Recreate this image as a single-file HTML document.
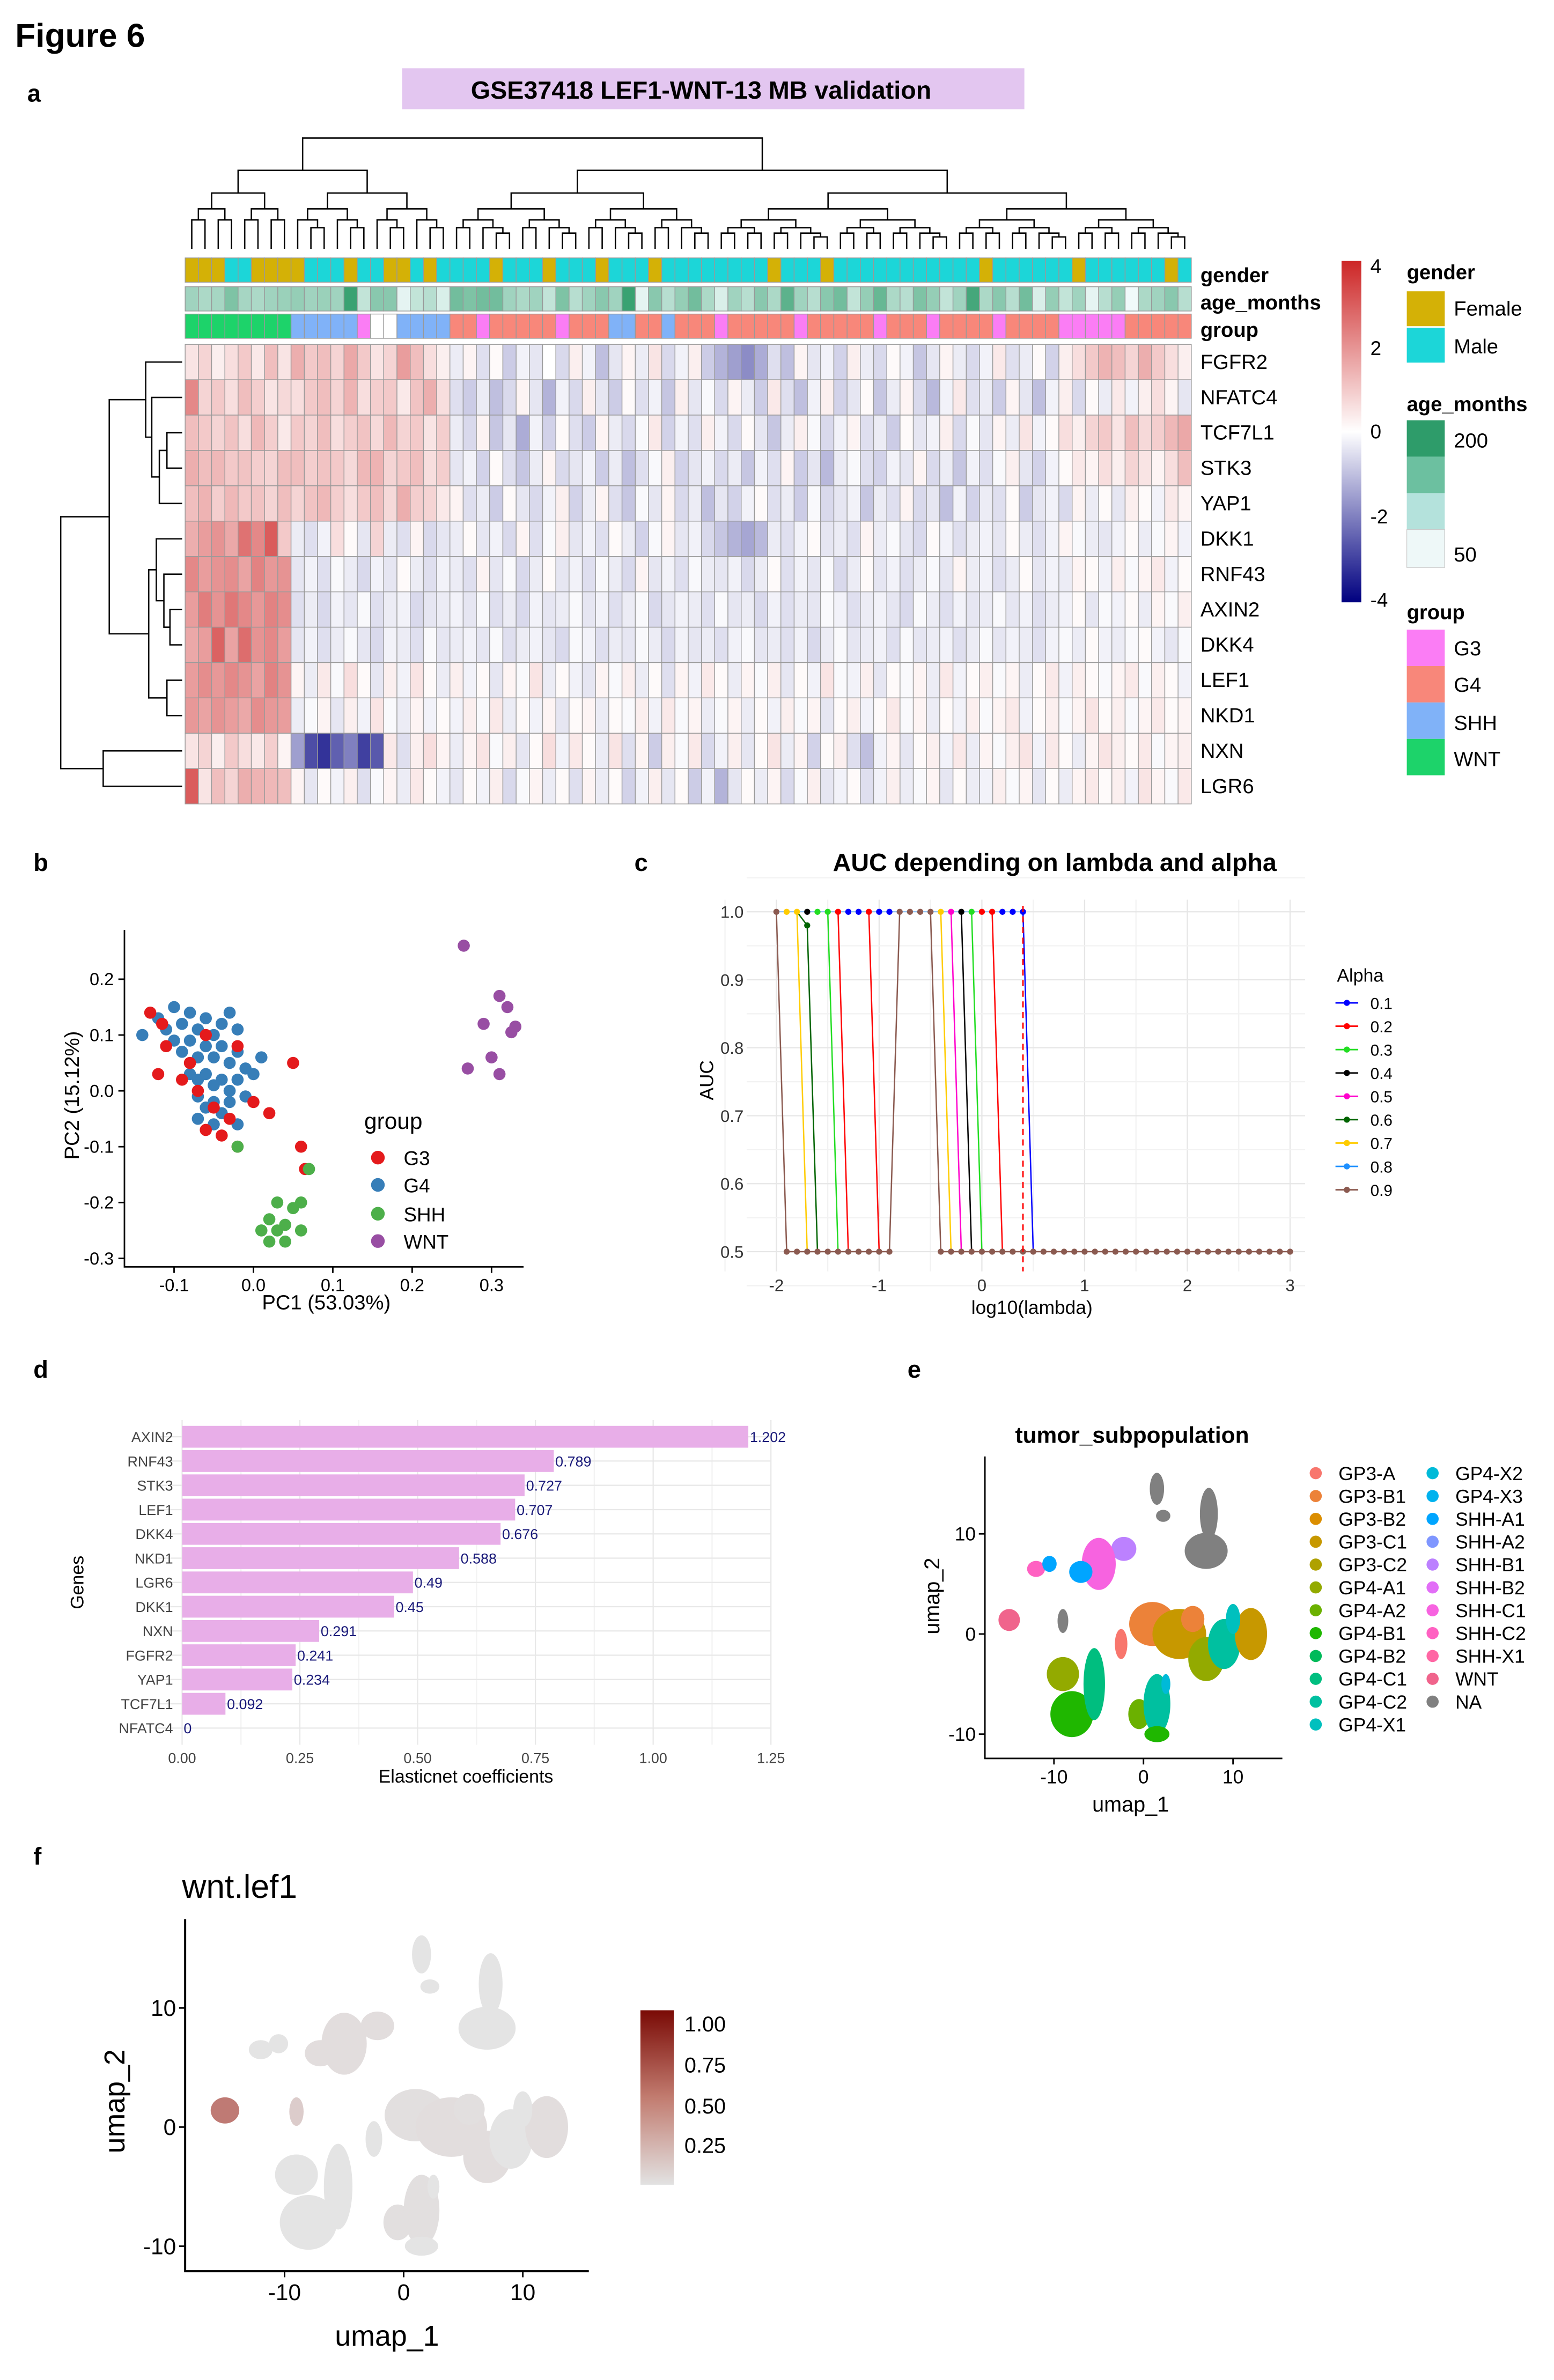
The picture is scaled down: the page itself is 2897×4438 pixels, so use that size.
<!DOCTYPE html>
<html><head><meta charset="utf-8"><style>
html,body{margin:0;padding:0;background:#fff}
svg{display:block;font-family:"Liberation Sans",Arial,sans-serif}
</style></head><body>
<svg id="fig" xmlns="http://www.w3.org/2000/svg" width="2897" height="4438" viewBox="0 0 1024 1568.7" preserveAspectRatio="none">
<rect x="0" y="0" width="1024" height="1568.7" fill="#fff"/>
<text x="10" y="31" font-size="22" font-weight="bold">Figure 6</text>
<text x="18" y="67" font-size="16" font-weight="bold">a</text>
<rect x="265" y="45" width="410" height="27" fill="#e3c6f0"/>
<text x="462" y="65" font-size="16.5" font-weight="bold" text-anchor="middle">GSE37418 LEF1-WNT-13 MB validation</text>
<g id="heat"></g>
<text x="791" y="186" font-size="13.5" font-weight="bold">gender</text>
<text x="791" y="204" font-size="13.5" font-weight="bold">age_months</text>
<text x="791" y="222" font-size="13.5" font-weight="bold">group</text>
<defs>
<linearGradient id="hg" x1="0" y1="0" x2="0" y2="1"><stop offset="0" stop-color="#cd2626"/><stop offset="0.5" stop-color="#ffffff"/><stop offset="1" stop-color="#000080"/></linearGradient>
<linearGradient id="fg" x1="0" y1="0" x2="0" y2="1"><stop offset="0" stop-color="#7a0a05"/><stop offset="0.5" stop-color="#c27c70"/><stop offset="1" stop-color="#e2e2e2"/></linearGradient>
</defs>
<g>
<rect x="884" y="172" width="13" height="225" fill="url(#hg)"/>
<g font-size="13"><text x="903" y="180">4</text><text x="903" y="234">2</text><text x="903" y="289">0</text><text x="903" y="345">-2</text><text x="903" y="400">-4</text></g>
</g>
<g font-size="13.5">
<text x="927" y="184" font-weight="bold">gender</text>
<rect x="927" y="192" width="25" height="23" fill="#d4b106"/><text x="958" y="208">Female</text>
<rect x="927" y="216" width="25" height="23" fill="#1cd6d8"/><text x="958" y="233">Male</text>
</g>
<g font-size="13.5">
<text x="927" y="271" font-weight="bold">age_months</text>
<rect x="927" y="277" width="25" height="24" fill="#2e9c6a"/>
<rect x="927" y="301" width="25" height="24" fill="#6cc0a0"/>
<rect x="927" y="325" width="25" height="24" fill="#b4e2dc"/>
<rect x="927" y="349" width="25" height="25" fill="#eef8f8" stroke="#ccc" stroke-width="0.5"/>
<text x="958" y="295">200</text><text x="958" y="370">50</text>
</g>
<g font-size="13.5">
<text x="927" y="408" font-weight="bold">group</text>
<rect x="927" y="415" width="25" height="24" fill="#fb7df5"/><text x="958" y="432">G3</text>
<rect x="927" y="439" width="25" height="24" fill="#f8877a"/><text x="958" y="456">G4</text>
<rect x="927" y="463" width="25" height="24" fill="#80b2f8"/><text x="958" y="481">SHH</text>
<rect x="927" y="487" width="25" height="24" fill="#1dd36a"/><text x="958" y="505">WNT</text>
</g>

<text x="22" y="574" font-size="16" font-weight="bold">b</text>
<g id="pca"></g>
<text x="215" y="863" font-size="13.5" text-anchor="middle">PC1 (53.03%)</text>
<text transform="translate(52,722) rotate(-90)" font-size="13.5" text-anchor="middle">PC2 (15.12%)</text>
<g font-size="13">
<text x="240" y="744" font-size="15">group</text>
<circle cx="249" cy="763" r="4.5" fill="#e41a1c"/><text x="266" y="768">G3</text>
<circle cx="249" cy="781" r="4.5" fill="#377eb8"/><text x="266" y="786">G4</text>
<circle cx="249" cy="800" r="4.5" fill="#4daf4a"/><text x="266" y="805">SHH</text>
<circle cx="249" cy="818" r="4.5" fill="#984ea3"/><text x="266" y="823">WNT</text>
</g>

<text x="418" y="574" font-size="16" font-weight="bold">c</text>
<text x="695" y="574" font-size="16.5" font-weight="bold" text-anchor="middle">AUC depending on lambda and alpha</text>
<g id="auc"></g>
<text x="680" y="866" font-size="12.5" text-anchor="middle">log10(lambda)</text>
<text transform="translate(470,712) rotate(-90)" font-size="12.5" text-anchor="middle">AUC</text>
<g id="aucleg"><text x="881" y="647" font-size="12">Alpha</text></g>

<text x="22" y="908" font-size="16" font-weight="bold">d</text>
<g id="bars"></g>
<text x="307" y="1175" font-size="12" text-anchor="middle">Elasticnet coefficients</text>
<text transform="translate(55,1043) rotate(-90)" font-size="12" text-anchor="middle">Genes</text>

<text x="598" y="908" font-size="16" font-weight="bold">e</text>
<text x="746" y="951" font-size="15" font-weight="bold" text-anchor="middle">tumor_subpopulation</text>
<g id="ue"></g>
<text x="745" y="1194" font-size="14" text-anchor="middle">umap_1</text>
<text transform="translate(619,1052) rotate(-90)" font-size="14" text-anchor="middle">umap_2</text>
<g id="uelegend"></g>

<text x="22" y="1229" font-size="16" font-weight="bold">f</text>
<text x="120" y="1251" font-size="22">wnt.lef1</text>
<g id="uf"></g>
<text x="255" y="1546" font-size="19" text-anchor="middle">umap_1</text>
<text transform="translate(82,1385) rotate(-90)" font-size="19" text-anchor="middle">umap_2</text>
<g font-size="14">
<rect x="422" y="1325" width="22" height="115" fill="url(#fg)"/>
<text x="451" y="1339">1.00</text><text x="451" y="1366">0.75</text><text x="451" y="1393">0.50</text><text x="451" y="1419">0.25</text>
</g>
</svg>
<script>
// ===== Heatmap data =====
const genes=["FGFR2","NFATC4","TCF7L1","STK3","YAP1","DKK1","RNF43","AXIN2","DKK4","LEF1","NKD1","NXN","LGR6"];
const genderStr="FFFMMFFFFMMMFMMFFMFMMMMFMMMFMMMFMMMFMMMMMMMMFMMMFMMMMMMMMMMMFMMMMMMFMMMMMMFMF";
const groupStr="WWWWWWWWSSSSS3NNSSSS443444443444SS44S4443444443444443444344443444433333444";
const ageVals=[110,100,105,140,105,100,110,115,120,110,115,110,200,80,130,130,50,80,90,60,150,140,150,150,110,100,110,80,140,90,110,130,110,200,50,130,90,120,150,100,60,110,90,130,100,170,110,90,130,150,80,120,160,100,90,140,120,80,110,190,100,130,90,150,60,120,80,110,50,90,120,40,100,110,130,90];
const expr=[
[.5,.8,.3,.6,1,.4,1.2,.5, 1.5,1,1.2,.8,1.6,1,.5,.8,1.8,1.2,.6,.3, -.3,.2,-.5,.1,-.8,-.2,-.4,0,-.6,.3, -.2,-1,-.4,.2,-.3,.5,-.6,-.2,.3,-.8, -1.2,-1.5,-1.8,-1.3,-.5,-1,.2,-.4,-.2,-.7, .3,-.3,-.6,.1,-.2,-.9,-.4,.2,-.3,-.6, -.2,.4,-.5,-.3,.1,-.7,.3,.6,1,1.4, 1.2,.8,1.5,1,.6,.3],
[2.2,.8,1,.6,1.2,.9,.5,.7, .6,1,1.2,.8,1.4,.6,.9,1,.4,1.1,1.5,.6, -.5,-.8,-.3,-1,-.6,.2,-.4,-1.2,-.2,-.6, .3,-.4,-.8,.1,-.5,-.2,-.9,.3,-.4,-.1, -.6,.2,-.3,-.8,.4,-.5,-1,-.2,.3,-.7, -.4,.1,-.9,-.3,.2,-.6,-1.1,-.2,.4,-.5, -.3,-.8,.2,-.4,-1,-.2,.3,-.6,.1,-.3, .4,-.2,.3,.6,.2,-.4],
[1.2,1,.8,1.1,.6,1.3,.9,.4, 1,.8,1.2,.6,.9,1.1,.7,1.3,.8,1,.5,.9, -.3,-.6,.2,-.9,-.4,-1.3,-.2,-.7,.1,-.5, -.8,.2,-.3,-.6,-.1,.4,-.7,-.2,-.5,.3, -.2,-.6,.1,-.4,-.9,-.3,.3,-.1,-.6,-.2, .2,-.5,-.3,-.8,.1,-.4,-.2,.3,-.6,-.1, -.4,.2,-.3,.5,-.2,.1,.6,.3,.8,1, .5,1.2,.7,.9,1.3,1.6],
[1.5,1.2,1.3,1,1.1,.9,.8,1.2, 1.2,.9,1.1,1,.7,1.3,1.4,.8,1,1.2,.6,.9, -.4,-.2,-.7,.1,-.5,-.9,-.3,.2,-.6,-.4, -.2,-.8,-.3,-1,-.5,-.1,.3,-.7,-.4,-.2, -.6,-.3,-.9,-.2,-.5,.2,-.8,-.4,-1.1,-.3, -.1,-.5,-.7,-.2,-.4,.2,-.6,-.3,-.9,-.2, -.5,-.1,.3,-.4,-.7,-.2,.1,.4,.2,.6, .3,.8,.5,.2,.6,1.2],
[1.2,1.4,.9,1.3,1,1.1,.8,1.2, .8,1.1,1.3,.9,.6,1,1.2,.7,1.5,.9,.8,.4, .2,-.5,-.3,-.8,.1,-.4,-.6,-.2,.3,-.7, -.3,.2,-.5,-.9,-.1,-.4,.2,-.6,-.3,-1, -.4,-.7,-.2,.1,-.5,-.3,-.8,-.1,-.6,-.4, -.2,-.9,-.3,-.5,.2,-.6,-.4,-1,-.2,-.7, -.3,-.5,.1,-.8,-.4,-.2,-.6,.2,-.3,.1, -.4,.3,.1,-.2,.4,.2],
[1.5,1.8,2,1.6,2.6,2.2,3,1, -.3,-.5,-.2,.6,.1,-.4,.8,-.3,-.5,.2,-.6,-.4, -.3,.1,-.4,-.2,-.6,.2,-.5,-.1,.3,-.4, -.2,-.5,.1,-.3,-.7,-.1,.2,-.4,-.2,-.6, -.9,-1.2,-1.4,-1.1,-.3,-.5,-.2,.1,-.4,-.3, -.5,.2,-.3,-.1,-.4,-.6,.1,-.2,-.5,-.3, -.2,-.4,.1,-.3,-.5,-.2,.2,-.1,-.3,-.4, -.2,.1,-.3,-.1,.2,-.2],
[2.2,1.8,2,2.1,1.7,2.3,1.9,2, -.4,-.2,-.5,-.1,-.3,-.6,-.2,-.4,.1,-.3,-.5,-.2, -.3,-.5,.2,-.4,-.1,-.6,-.3,.1,-.4,-.2, -.5,-.1,-.3,-.6,.2,-.4,-.2,-.5,-.1,-.3, -.4,-.2,-.6,-.3,.1,-.5,-.2,-.4,-.1,-.6, -.3,.1,-.4,-.2,-.5,-.3,-.1,-.4,.2,-.3, -.2,-.5,-.3,.1,-.4,-.2,-.3,.2,.1,-.2, .3,-.1,.2,.4,-.2,.1],
[1.8,2.4,2,2.5,2.2,1.9,2.3,2.1, -.5,-.3,-.6,-.2,-.4,-.1,-.5,-.3,-.2,-.6,-.4,-.3, -.2,-.4,-.1,-.5,-.3,-.6,-.2,-.4,-.3,-.1, -.4,-.2,-.5,-.3,-.1,-.6,-.4,-.2,-.3,-.5, -.1,-.4,-.3,-.6,-.2,-.5,-.3,-.4,-.1,-.2, -.5,-.3,-.2,-.4,-.6,-.1,-.3,-.5,-.2,-.4, -.3,-.1,-.4,-.2,-.5,-.3,-.2,.1,-.4,-.1, -.2,.1,-.3,.2,-.1,.3],
[1.6,1.8,2.9,1.7,2.7,2,2.2,1.8, -.4,-.2,-.5,-.3,-.1,-.4,-.6,-.2,-.3,-.5,-.1,-.4, -.3,-.2,-.4,-.1,-.5,-.3,-.2,-.4,-.6,-.1, -.2,-.5,-.3,-.4,-.1,-.3,-.6,-.2,-.4,-.3, -.5,-.2,-.1,-.4,-.3,-.5,-.2,-.6,-.3,-.1, -.4,-.3,-.2,-.5,-.1,-.4,-.3,-.2,-.5,-.3, -.1,-.4,-.2,-.3,-.5,-.2,-.1,-.3,.1,-.2, -.3,-.1,.1,-.2,-.4,-.1],
[1.8,2.1,1.9,2.2,2,1.7,2.3,2, .2,-.3,.4,-.1,.6,.1,-.4,.3,-.2,.5,.1,-.3, .3,-.2,.1,-.4,.2,-.1,.5,-.3,.1,-.2, -.4,.2,-.1,.3,-.3,.1,-.5,.2,-.2,.4, .1,-.3,.2,-.1,.3,-.4,.1,-.2,.5,-.1, -.2,.3,-.4,.1,-.1,.2,-.3,.4,-.2,.1, .3,-.1,.2,-.3,.1,.4,-.2,.3,.1,-.1, .2,.4,-.1,.3,.1,-.2],
[1.9,1.7,2,1.8,1.6,2.1,1.9,1.8, -.3,-.1,.2,-.4,.3,-.2,.5,-.1,-.3,.2,-.2,.1, -.2,.3,-.1,.4,-.3,.1,-.2,.2,-.4,.1, .2,-.3,.1,-.1,.3,-.2,.4,-.1,.2,-.3, -.1,.2,-.3,.1,-.2,.3,-.1,.2,-.4,.1, .3,-.2,.1,.4,-.1,.2,-.3,.1,-.2,.3, -.1,.2,.4,-.2,.1,.3,-.1,.2,.5,.1, .3,-.1,.2,.4,.1,.2],
[.5,.8,.3,1,.6,.4,.9,.2, -1.5,-2.8,-3.2,-2.5,-2,-3,-2.6,.4,-.5,.3,.6,.2, -.3,.2,.5,-.1,.3,-.4,.1,.6,-.2,.4, .1,-.3,.5,-.5,.2,-.8,.3,-.1,.4,-.6, -.2,.3,-.4,.1,.5,-.3,.2,-.7,.1,.3, -.5,-1,-.2,.2,-.4,.1,.3,-.2,.4,-.3, .2,-.1,.3,.5,-.2,.4,.1,-.3,.2,.5, .3,.1,.4,-.1,.2,.3],
[3,.5,1.2,.8,1.5,1.4,1.3,1.2, .2,-.4,.1,-.2,.3,-.5,-.1,.2,-.3,.4,.1,-.2, -.4,.1,-.2,.3,-.6,-.1,.2,-.3,.1,-.5, .2,-.3,.1,-.7,-.2,.3,-.4,.1,-.8,-.2, -1.2,-.4,.1,-.3,.2,-.6,-.1,.3,-.4,-.2, .1,-.5,-.2,.3,-.3,-.1,.2,-.4,.1,-.3, -.2,.3,-.1,.2,-.4,.1,-.3,.2,.4,.1, .3,-.2,.5,.2,-.1,.4]
];
// ===== PCA data =====
const g3x=[-.13,-.115,-.11,-.12,-.08,-.06,-.07,-.05,-.04,-.03,-.06,-.02,0,.02,.05,.06,.065,-.02,-.09];
const g3y=[.14,.12,.08,.03,.05,.1,0,-.03,-.08,-.05,-.07,-.1,-.02,-.04,.05,-.1,-.14,.08,.02];
const g4x=[-.14,-.12,-.1,-.09,-.08,-.07,-.06,-.05,-.04,-.03,-.02,-.1,-.09,-.08,-.07,-.06,-.05,-.04,-.03,-.02,-.01,-.08,-.07,-.06,-.05,-.04,-.03,-.02,-.07,-.06,-.05,-.04,-.03,-.01,0,-.07,-.05,-.02,.01,-.11];
const g4y=[.1,.13,.15,.12,.14,.11,.13,.1,.12,.14,.11,.09,.07,.09,.06,.08,.06,.08,.05,.07,.04,.03,.02,.03,.01,.02,0,.02,-.01,-.03,-.02,-.04,-.02,-.01,.03,-.05,-.06,-.06,.06,.11];
const shhx=[-.02,.03,.02,.03,.04,.05,.06,.04,.02,.01,.07,.06];
const shhy=[-.1,-.2,-.23,-.25,-.24,-.21,-.25,-.27,-.27,-.25,-.14,-.2];
const wntx=[.265,.31,.32,.33,.325,.29,.30,.27,.31];
const wnty=[.26,.17,.15,.115,.105,.12,.06,.04,.03];
// ===== AUC data =====
const lambdaGrid=[-2,-1.9,-1.8,-1.7,-1.6,-1.5,-1.4,-1.3,-1.2,-1.1,-1,-.9,-.8,-.7,-.6,-.5,-.4,-.3,-.2,-.1,0,.1,.2,.3,.4,.5,.6,.7,.8,.9,1,1.1,1.2,1.3,1.4,1.5,1.6,1.7,1.8,1.9,2,2.1,2.2,2.3,2.4,2.5,2.6,2.7,2.8,2.9,3];
const alphas=[.1,.2,.3,.4,.5,.6,.7,.8,.9];
const alphaColors=["#0000ff","#ff0000","#22dd22","#000000","#ff00cc","#006400","#ffcc00","#1e90ff","#8b5a50"];
const topAlpha=[.9,.7,.7,.4,.3,.3,.2,.1,.1,.2,.1,.1,.9,.9,.9,.9,.7,.5,.4,.3,.2,.2,.1,.1,.1,0,0,0,0,0,0,0,0,0,0,0,0,0,0,0,0,0,0,0,0,0,0,0,0,0,0];
const atBottom=[0,1,1,1,1,1,1,1,1,1,1,1,0,0,0,0,1,1,1,1,1,1,1,1,1,1,1,1,1,1,1,1,1,1,1,1,1,1,1,1,1,1,1,1,1,1,1,1,1,1,1];
const dropMask=[1,0,1,0,0,1,1,0,0,1,0,0,0,0,0,1,1,1,1,1,0,1,0,0,1,0,0,0,0,0,0,0,0,0,0,0,0,0,0,0,0,0,0,0,0,0,0,0,0,0,0];
const aucTicksX=[-2,-1,0,1,2,3];
const aucTicksY=[.5,.6,.7,.8,.9,1.0];
// ===== Coefficient data =====
const coefGenes=["AXIN2","RNF43","STK3","LEF1","DKK4","NKD1","LGR6","DKK1","NXN","FGFR2","YAP1","TCF7L1","NFATC4"];
const coefVals=[1.202,0.789,0.727,0.707,0.676,0.588,0.49,0.45,0.291,0.241,0.234,0.092,0];
const coefTicks=[0,0.25,0.5,0.75,1.0,1.25];
// ===== UMAP data =====
const subpops=["GP3-A","GP3-B1","GP3-B2","GP3-C1","GP3-C2","GP4-A1","GP4-A2","GP4-B1","GP4-B2","GP4-C1","GP4-C2","GP4-X1","GP4-X2","GP4-X3","SHH-A1","SHH-A2","SHH-B1","SHH-B2","SHH-C1","SHH-C2","SHH-X1","WNT","NA"];
const subColors=["#F8766D","#EC8239","#DB8E00","#C79800","#AFA100","#93AA00","#6BB100","#1FB700","#00BA5A","#00BE7F","#00C0A0","#00C0BE","#00BAD8","#00B2EE","#00A5FF","#7F96FF","#BC81FF","#E26EF7","#F763E0","#FF61C2","#FF67A4","#F0648C","#808080"];
const blobPop=["NA","NA","NA","NA","SHH-B1","SHH-C1","SHH-A1","SHH-C2","SHH-A1","WNT","NA","GP3-B1","GP3-A","GP3-C1","GP3-B1","GP4-A1","GP4-C2","GP3-C1","GP4-X1","GP4-A1","GP4-B1","GP4-C1","GP4-A2","GP4-C2","GP4-B1","GP4-X2"];
const blobX=[7,7.3,1.5,2.2,-2.2,-5,-7,-12,-10.5,-15,-9,1,-2.5,4,5.5,7,9,12,10,-9,-8,-5.5,-0.5,1.5,1.5,2.5];
const blobY=[8.3,12,14.5,11.8,8.5,7,6.2,6.5,7,1.4,1.3,1,-1,0,1.5,-2.5,-1,0,1.5,-4,-8,-5,-8,-7,-10,-5];
const blobRx=[2.4,1,0.8,0.8,1.4,1.9,1.3,1,0.8,1.2,0.6,2.6,0.7,3,1.3,2,1.8,1.8,0.8,1.8,2.4,1.2,1.2,1.5,1.4,0.5];
const blobRy=[1.8,2.6,1.6,0.6,1.2,2.6,1.1,0.8,0.8,1.1,1.2,2.2,1.5,2.5,1.3,2.2,2.5,2.6,1.5,1.7,2.3,3.6,1.5,3,0.8,1];
const lef1Vals=[0,0,0,0,.03,.03,.03,0,0,.45,.1,.02,0,.03,.02,.03,0,.03,0,0,0,0,.02,.02,0,0];
const umapTicks=[-10,0,10];

const NS="http://www.w3.org/2000/svg";
function mk(parent,tag,attrs,txt){const e=document.createElementNS(NS,tag);for(const k in attrs)e.setAttribute(k,attrs[k]);if(txt!==undefined)e.textContent=txt;parent.appendChild(e);return e;}
function lerp(a,b,t){return Math.round(a+(b-a)*t);}
function heatColor(v){v=Math.max(-4,Math.min(4,v));if(v>=0){const t=v/4;return `rgb(${lerp(255,205,t)},${lerp(255,38,t)},${lerp(255,38,t)})`;}const t=-v/4;return `rgb(${lerp(255,0,t)},${lerp(255,0,t)},${lerp(255,128,t)})`;}
function ageColor(a){const t=Math.max(0,Math.min(1,(a-40)/170));return `rgb(${lerp(240,46,t)},${lerp(250,156,t)},${lerp(250,106,t)})`;}
const groupCol={W:"#1dd36a",S:"#80b2f8","3":"#fb7df5","4":"#f8877a",N:"#ffffff"};
const genderCol={F:"#d4b106",M:"#1cd6d8"};

// ===== Heatmap =====
const heat=document.getElementById('heat');
const HX=122,HW=663,HY=227,nC=expr[0].length,cw=HW/nC,rh=23.3;
const hx=i=>HX+i*cw, hy=r=>HY+r*rh;
for(let i=0;i<nC;i++){
  let e=mk(heat,'rect',{x:hx(i),y:170,width:cw,height:16,fill:genderCol[genderStr[i]]||"#1cd6d8",stroke:"#999","stroke-width":0.5});
  
  
  e=mk(heat,'rect',{x:hx(i),y:189,width:cw,height:16,fill:ageColor(ageVals[i]),stroke:"#999","stroke-width":0.5});
  
  
  e=mk(heat,'rect',{x:hx(i),y:207,width:cw,height:16,fill:groupCol[groupStr[i]]||"#f8877a",stroke:"#999","stroke-width":0.5});
  
  
}
for(let r=0;r<genes.length;r++){
  for(let i=0;i<nC;i++){
    const e=mk(heat,'rect',{x:hx(i),y:hy(r),width:cw,height:rh,fill:heatColor(expr[r][i]),stroke:"#9a9a9a","stroke-width":0.5});
    
    
  }
  const t=mk(heat,'text',{x:791,y:hy(r)+rh/2+4.5,"font-size":13.5},genes[r]);
  
  
}
let dp="";
function colTree(a,b,y,top){
  if(b-a===1)return hx(a)+cw/2;
  let m=Math.floor((a+b)/2);
  if(top!==undefined)m=top.split;
  const cy=y+(162-y)*0.3;
  const xl=colTree(a,m,cy,top&&top.left), xr=colTree(m,b,cy,top&&top.right);
  const yl=(m-a===1)?164:cy, yr=(b-m===1)?164:cy;
  dp+=`M${xl},${yl}V${y}H${xr}V${yr}`;
  return (xl+xr)/2;
}
colTree(0,nC,91,{split:20,left:{split:8},right:{split:40,left:{split:30},right:{split:58}}});
let dd=mk(heat,'path',{d:dp,fill:"none",stroke:"#000","stroke-width":0.9});


let rp="";
const leaf=r=>({x:120,y:hy(r)+rh/2});
function join(a,b,x){rp+=`M${a.x},${a.y}H${x}V${b.y}H${b.x}`;return {x:x,y:(a.y+b.y)/2};}
const A=join(leaf(2),leaf(3),110),B=join(A,leaf(4),105),C=join(leaf(1),B,100),D=join(leaf(0),C,96);
const E=join(leaf(7),leaf(8),112),F=join(leaf(6),E,108),G=join(leaf(5),F,103),K=join(leaf(9),leaf(10),110),H=join(G,K,98);
const I=join(D,H,72),J=join(leaf(11),leaf(12),68);join(I,J,40);
dd=mk(heat,'path',{d:rp,fill:"none",stroke:"#000","stroke-width":0.9});



// ===== PCA =====
const pca=document.getElementById('pca');
const xb=v=>167+v*523, yb=v=>719-v*368;
let ax=mk(pca,'path',{d:"M82,613V835H345",fill:"none",stroke:"#000","stroke-width":1});


[-0.1,0,0.1,0.2,0.3].forEach(v=>{mk(pca,'line',{x1:xb(v),x2:xb(v),y1:835,y2:839,stroke:"#000"});
 const t=mk(pca,'text',{x:xb(v),y:851,"font-size":11.5,"text-anchor":"middle"},v.toFixed(1));
 
 });
[-0.3,-0.2,-0.1,0,0.1,0.2].forEach(v=>{mk(pca,'line',{x1:78,x2:82,y1:yb(v),y2:yb(v),stroke:"#000"});
 const t=mk(pca,'text',{x:75,y:yb(v)+4,"font-size":11.5,"text-anchor":"end"},v.toFixed(1));
 
 });
[[g4x,g4y,"#377eb8","g4"],[g3x,g3y,"#e41a1c","g3"],[shhx,shhy,"#4daf4a","shh"],[wntx,wnty,"#984ea3","wnt"]].forEach(s=>{
  s[0].forEach((v,i)=>{const c=mk(pca,'circle',{cx:xb(v),cy:yb(s[1][i]),r:4,fill:s[2]});
  
  });
});

// ===== AUC =====
const auc=document.getElementById('auc');
const xc=v=>647+v*67.7, yc=v=>825-(v-0.5)*448;
for(let v=-2.5;v<=3.01;v+=0.5){mk(auc,'line',{x1:xc(v),x2:xc(v),y1:593,y2:838,stroke:(Math.abs(v%1)<0.01)?"#e6e6e6":"#f2f2f2","stroke-width":0.8});}
for(let v=0.45;v<=1.06;v+=0.05){mk(auc,'line',{x1:492,x2:860,y1:yc(v),y2:yc(v),stroke:(Math.round(v*100)%10===0)?"#e6e6e6":"#f2f2f2","stroke-width":0.8});}
aucTicksX.forEach(v=>{const t=mk(auc,'text',{x:xc(v),y:851,"font-size":11,"text-anchor":"middle",fill:"#333"},String(v));
 
 });
aucTicksY.forEach(v=>{const t=mk(auc,'text',{x:490,y:yc(v)+4,"font-size":11,"text-anchor":"end",fill:"#333"},v.toFixed(1));
 
 });
const colOf=a=>alphaColors[alphas.indexOf(a)];
mk(auc,'line',{x1:xc(-1.9),y1:yc(0.5),x2:xc(-0.9),y2:yc(0.5),stroke:"#8b5a50","stroke-width":0.9});
mk(auc,'line',{x1:xc(-0.4),y1:yc(0.5),x2:xc(3),y2:yc(0.5),stroke:"#8b5a50","stroke-width":0.9});
mk(auc,'line',{x1:xc(-2),y1:yc(1),x2:xc(0.4),y2:yc(1),stroke:"#1e90ff","stroke-width":0.6,opacity:0.6});
for(let i=0;i<lambdaGrid.length-1;i++){
  if(topAlpha[i]&&atBottom[i+1]&&dropMask[i]){const l=mk(auc,'line',{x1:xc(lambdaGrid[i]),y1:yc(1),x2:xc(lambdaGrid[i+1]),y2:yc(0.5),stroke:colOf(topAlpha[i]),"stroke-width":0.9});
   
   }
  if(atBottom[i]&&topAlpha[i+1]&&!atBottom[i+1]){const l=mk(auc,'line',{x1:xc(lambdaGrid[i]),y1:yc(0.5),x2:xc(lambdaGrid[i+1]),y2:yc(1),stroke:colOf(topAlpha[i+1]),"stroke-width":0.9});
   
   }
}
mk(auc,'line',{x1:xc(-1.8),y1:yc(1),x2:xc(-1.7),y2:yc(0.98),stroke:"#006400","stroke-width":0.9});
mk(auc,'line',{x1:xc(-1.7),y1:yc(.98),x2:xc(-1.6),y2:yc(0.5),stroke:"#006400","stroke-width":0.9});
const dc=mk(auc,'circle',{cx:xc(-1.7),cy:yc(0.98),r:2,fill:"#006400"});


lambdaGrid.forEach((v,i)=>{
  if(topAlpha[i]){const c=mk(auc,'circle',{cx:xc(v),cy:yc(1),r:2,fill:colOf(topAlpha[i])});
   
   }
  if(atBottom[i]){const c=mk(auc,'circle',{cx:xc(v),cy:yc(0.5),r:2,fill:"#8b5a50"});
   
   }
});
const dl=mk(auc,'line',{x1:xc(0.4),y1:597,x2:xc(0.4),y2:838,stroke:"#ff0000","stroke-width":1,"stroke-dasharray":"4,3"});


const leg=document.getElementById('aucleg');
alphas.forEach((a,i)=>{const y=661+15.4*i;
 mk(leg,'line',{x1:880,x2:895,y1:y,y2:y,stroke:alphaColors[i]});
 mk(leg,'circle',{cx:887.5,cy:y,r:2,fill:alphaColors[i]});
 const t=mk(leg,'text',{x:903,y:y+4,"font-size":10.5},String(a));
 
 });

// ===== Bars =====
const bars=document.getElementById('bars');
const xd=v=>120+v*310.4, yd=i=>947+16*i;
for(let v=0.125;v<=1.3;v+=0.25)mk(bars,'line',{x1:xd(v),x2:xd(v),y1:936,y2:1150,stroke:"#f3f3f3","stroke-width":0.8});
coefTicks.forEach(v=>{mk(bars,'line',{x1:xd(v),x2:xd(v),y1:936,y2:1150,stroke:"#e8e8e8","stroke-width":0.8});
 const t=mk(bars,'text',{x:xd(v),y:1162,"font-size":9.5,"text-anchor":"middle",fill:"#444"},v.toFixed(2));
 
 });
coefGenes.forEach((g,i)=>{
 mk(bars,'line',{x1:104,x2:508,y1:yd(i),y2:yd(i),stroke:"#e8e8e8","stroke-width":0.8});
 const b=mk(bars,'rect',{x:xd(0),y:yd(i)-7.2,width:xd(coefVals[i])-xd(0),height:14.4,fill:"#e8aee8"});
 
 
 const t=mk(bars,'text',{x:114,y:yd(i)+3.5,"font-size":9.5,"text-anchor":"end",fill:"#444"},g);
 
 
 const vl=mk(bars,'text',{x:xd(coefVals[i])+1,y:yd(i)+3.5,"font-size":9.5,fill:"#1a1a7a"},String(coefVals[i]));
 
 
});

// ===== UMAP =====
function drawUmap(gid,xs,ys,ax0,ax1,ay0,ay1,tickFs,colorFn,namePrefix,sw){
 const g=document.getElementById(gid);
 blobX.forEach((x,i)=>{
  const e=mk(g,'ellipse',{cx:xs(x),cy:ys(blobY[i]),rx:Math.abs(xs(blobRx[i])-xs(0)),ry:Math.abs(ys(blobRy[i])-ys(0)),fill:colorFn(i)});
  
  
 });
 const a=mk(g,'path',{d:`M${ax0},${ay0}V${ay1}H${ax1}`,fill:"none",stroke:"#000","stroke-width":sw});
 
 
 umapTicks.forEach(v=>{
  mk(g,'line',{x1:xs(v),x2:xs(v),y1:ay1,y2:ay1+4,stroke:"#000"});
  let t=mk(g,'text',{x:xs(v),y:ay1+4+tickFs,"font-size":tickFs,"text-anchor":"middle"},String(v));
  
  
  mk(g,'line',{x1:ax0-4,x2:ax0,y1:ys(v),y2:ys(v),stroke:"#000"});
  t=mk(g,'text',{x:ax0-6,y:ys(v)+tickFs*0.35,"font-size":tickFs,"text-anchor":"end"},String(v));
  
  
 });
 return g;
}
const xe=u=>753.5+u*5.9, ye=u=>1077-u*6.6;
drawUmap('ue',xe,ye,649,845,960,1159,12.5,i=>subColors[subpops.indexOf(blobPop[i])],'umap-e',1);
const ul=document.getElementById('uelegend');
subpops.forEach((s,i)=>{
 const col=i<12?0:1, row=i<12?i:i-12;
 const x=col?944:867, y=971+15.06*row;
 mk(ul,'circle',{cx:x,cy:y,r:4,fill:subColors[i]});
 const t=mk(ul,'text',{x:x+15,y:y+4.5,"font-size":12.5},s);
 
 
});
const xf=u=>266+u*7.85, yf=u=>1402-u*7.85;
drawUmap('uf',xf,yf,122,388,1265,1497,15,i=>{const t=lef1Vals[i];return `rgb(${lerp(228,170,t*1.4)},${lerp(228,60,t*1.4)},${lerp(228,50,t*1.4)})`;},'umap-f',1.4);
</script>
</body></html>
